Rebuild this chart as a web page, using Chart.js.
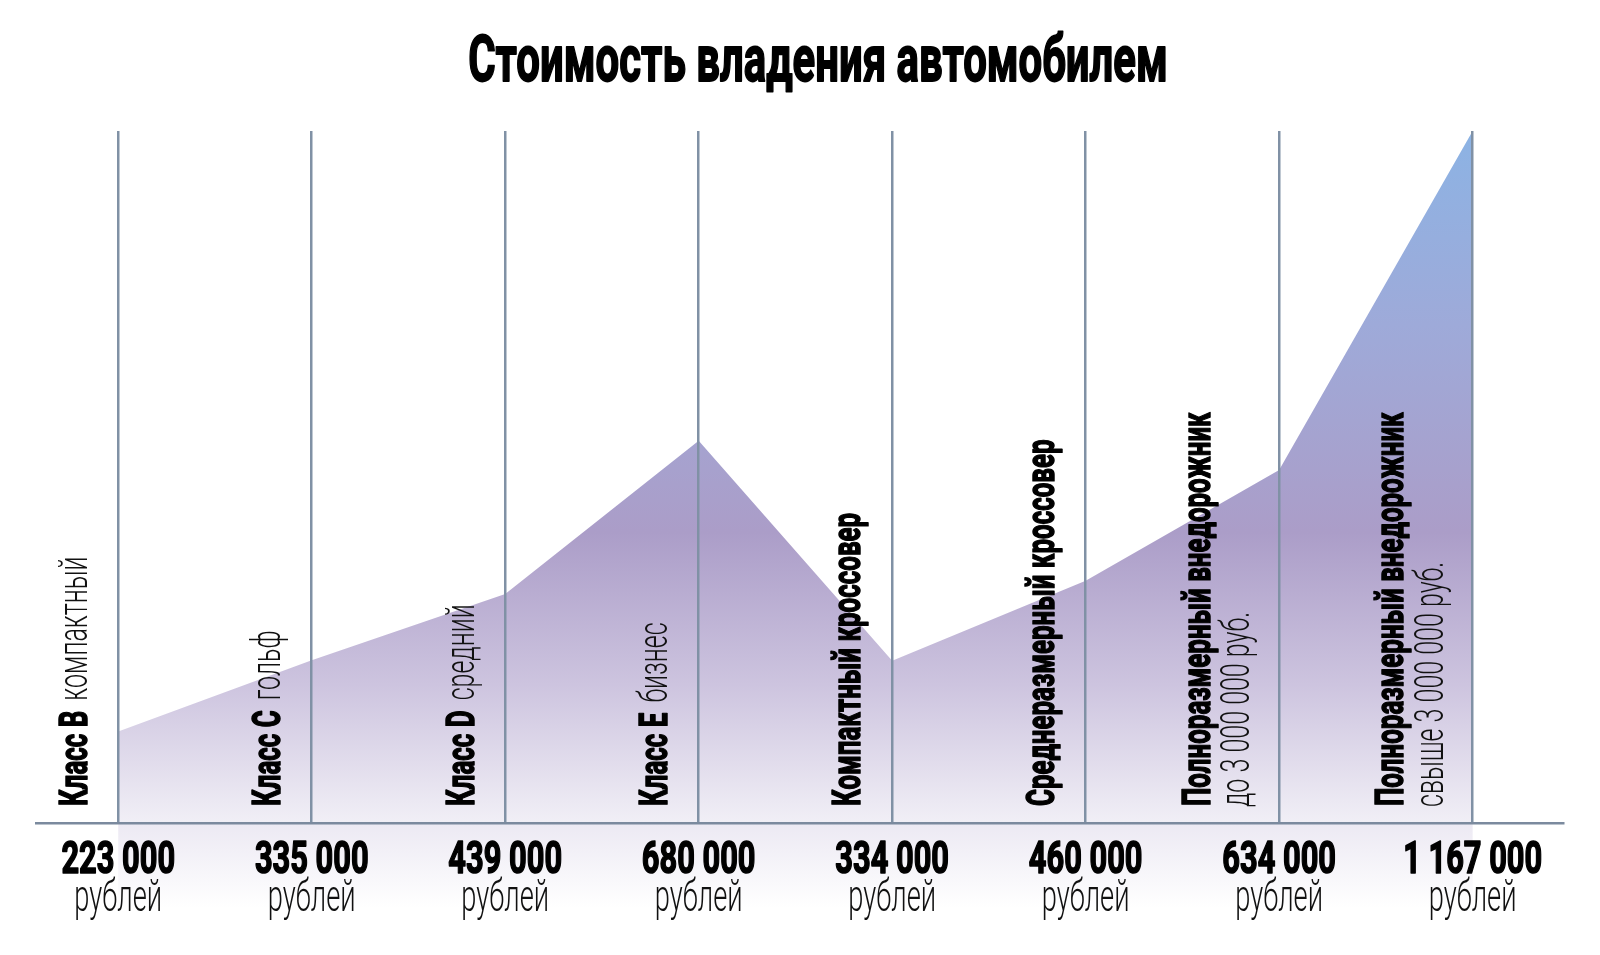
<!DOCTYPE html>
<html>
<head>
<meta charset="utf-8">
<script src="https://cdn.jsdelivr.net/npm/chart.js@4/dist/chart.umd.min.js"></script>
<style>
  html, body { margin: 0; padding: 0; background: #ffffff; }
  #c { display: block; }
</style>
</head>
<body>
<canvas id="c" width="1600" height="955"></canvas>
<script>
// ---- data ----
const chartTitle = 'Стоимость владения автомобилем';
const categories = ['Класс B', 'Класс C', 'Класс D', 'Класс E', 'Компактный кроссовер', 'Среднеразмерный кроссовер', 'Полноразмерный внедорожник', 'Полноразмерный внедорожник'];
const subLabels = ['компактный', 'гольф', 'средний', 'бизнес', '', '', 'до 3 000 000 руб.', 'свыше 3 000 000 руб.'];
const values = [223000, 335000, 439000, 680000, 334000, 460000, 634000, 1167000];
const valueLabels = ['223 000', '335 000', '439 000', '680 000', '334 000', '460 000', '634 000', '1 167 000'];
const unitLabel = 'рублей';

// ---- style ----
const FONT = 'Roboto, "DejaVu Sans", sans-serif';
const gridColor = '#8091a5';

function drawScaledText(ctx, text, x, y, font, sx, align, color, stroke) {
  ctx.save();
  ctx.font = font;
  ctx.fillStyle = color || '#000';
  ctx.textBaseline = 'alphabetic';
  const w = ctx.measureText(text).width * sx;
  let x0 = x;
  if (align === 'center') x0 = x - w / 2;
  else if (align === 'right') x0 = x - w;
  ctx.translate(x0, y);
  ctx.scale(sx, 1);
  ctx.textAlign = 'left';
  ctx.fillText(text, 0, 0);
  if (stroke) {
    ctx.strokeStyle = color || '#000';
    ctx.lineWidth = stroke;
    ctx.lineJoin = 'round';
    ctx.strokeText(text, 0, 0);
  }
  ctx.restore();
  return w;
}

const labelsPlugin = {
  id: 'labelsPlugin',
  beforeDraw(chart) {
    const ctx = chart.ctx;
    const xs = chart.scales.x;
    const ca = chart.chartArea;
    const x0 = xs.getPixelForValue(0), x1 = xs.getPixelForValue(values.length - 1);
    const g = ctx.createLinearGradient(0, ca.bottom, 0, ca.bottom + 85);
    g.addColorStop(0, 'rgba(236,233,243,1)');
    g.addColorStop(1, 'rgba(255,255,255,1)');
    ctx.save();
    ctx.fillStyle = g;
    ctx.fillRect(x0, ca.bottom, x1 - x0, 85);
    ctx.restore();
  },
  afterDraw(chart) {
    const ctx = chart.ctx;
    const xs = chart.scales.x;
    const ca = chart.chartArea;
    // title
    drawScaledText(ctx, chartTitle, 818, 81, 'bold 64px ' + FONT, 0.655, 'center', '#000', 1.8);
    values.forEach((v, i) => {
      const px = xs.getPixelForValue(i);
      drawScaledText(ctx, valueLabels[i], px, ca.bottom + 50, 'bold 44px ' + FONT, 0.70, 'center', '#000', 1.6);
      drawScaledText(ctx, unitLabel, px, ca.bottom + 88, '300 44px ' + FONT, 0.62, 'center', '#111');
      // rotated category labels
      const twoLine = subLabels[i] && /\d/.test(subLabels[i]);
      ctx.save();
      const baseX = twoLine ? px - 69.5 : px - 31.7;
      ctx.translate(baseX, ca.bottom - 17);
      ctx.rotate(-Math.PI / 2);
      const bw = drawScaledText(ctx, categories[i], 0, 0, 'bold 39px ' + FONT, 0.665, 'left', '#000', 1.5);
      if (subLabels[i]) {
        if (twoLine) {
          drawScaledText(ctx, subLabels[i], -1, 39.5, '300 41px ' + FONT, 0.61, 'left', '#111');
        } else {
          drawScaledText(ctx, subLabels[i], bw + 10, 0, '300 41px ' + FONT, 0.61, 'left', '#111');
        }
      }
      ctx.restore();
    });
  }
};

new Chart(document.getElementById('c'), {
  type: 'line',
  data: {
    datasets: [{
      data: values.map((v, i) => ({ x: i, y: v })),
      fill: 'start',
      borderWidth: 0,
      pointRadius: 0,
      tension: 0,
      backgroundColor: (context) => {
        const ca = context.chart.chartArea;
        if (!ca) return '#aa9cc8';
        const g = context.chart.ctx.createLinearGradient(0, ca.top, 0, ca.bottom);
        g.addColorStop(0, '#8cb3e4');
        g.addColorStop(0.28, '#9eaad9');
        g.addColorStop(0.58, '#ab9dc8');
        g.addColorStop(0.8, '#cdc4df');
        g.addColorStop(1, '#f1eff6');
        return g;
      }
    }]
  },
  options: {
    responsive: false,
    animation: false,
    devicePixelRatio: 1,
    layout: { padding: { left: 36, right: 37, top: 131, bottom: 132 } },
    scales: {
      x: {
        type: 'linear',
        min: -0.425,
        max: 7.467,
        z: 1,
        afterBuildTicks: (scale) => { scale.ticks = values.map((v, i) => ({ value: i })); },
        ticks: { display: false },
        grid: { color: gridColor, lineWidth: 2.5, drawTicks: false, z: 1 },
        border: { display: true, color: '#7b8a9e', width: 2.5, z: 1 }
      },
      y: { display: false, min: 79000, max: 1167000 }
    },
    plugins: { legend: { display: false }, tooltip: { enabled: false }, title: { display: false } }
  },
  plugins: [labelsPlugin]
});
</script>
</body>
</html>
